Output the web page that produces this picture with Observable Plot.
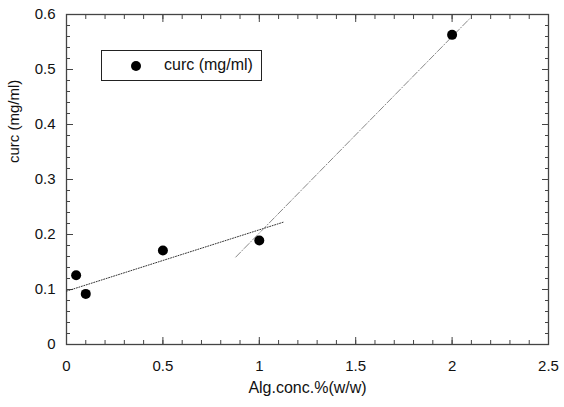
<!DOCTYPE html>
<html>
<head>
<meta charset="utf-8">
<script src="https://cdn.jsdelivr.net/npm/d3@7"></script>
<script src="https://cdn.jsdelivr.net/npm/@observablehq/plot@0.6"></script>
<style>
  body { margin: 0; background: #fff; }
  #wrap { position: relative; width: 564px; height: 407px; font-family: "Liberation Sans", Arial, sans-serif; }
  #legend { position: absolute; left: 101px; top: 50px; width: 159px; height: 29px; border: 1px solid #222; background: #fff; }
  #legend .dot { position: absolute; left: 29px; top: 10px; width: 10px; height: 10px; border-radius: 50%; background: #000; }
  #legend .lbl { position: absolute; left: 62px; top: 5px; font-size: 16px; color: #111; }
</style>
</head>
<body>
<div id="wrap">
  <div id="chart"></div>
  <div id="legend"><div class="dot"></div><div class="lbl">curc (mg/ml)</div></div>
</div>
<script>
const algConc = [0.05, 0.1, 0.5, 1, 2];
const curc = [0.126, 0.092, 0.171, 0.189, 0.563];

const fit1X = [0, 1.13];
const fit1Y = [0.097, 0.223];
const fit2X = [0.878, 2.09];
const fit2Y = [0.159, 0.592];

const xMajor = [0, 0.5, 1, 1.5, 2, 2.5];
const xLabels = ["0", "0.5", "1", "1.5", "2", "2.5"];
const yMajor = [0, 0.1, 0.2, 0.3, 0.4, 0.5, 0.6];
const yLabels = ["0", "0.1", "0.2", "0.3", "0.4", "0.5", "0.6"];
const xMinor = d3.range(0, 26).map(i => i / 10);
const yMinor = d3.range(0, 31).map(i => i / 50);

const xTitle = "Alg.conc.%(w/w)";
const yTitle = "curc (mg/ml)";

const points = algConc.map((x, i) => ({x, y: curc[i]}));
const line1 = fit1X.map((x, i) => ({x, y: fit1Y[i]}));
const line2 = fit2X.map((x, i) => ({x, y: fit2Y[i]}));

const ink = "#444";
const fmtX = d => xLabels[xMajor.indexOf(d)];
const fmtY = d => yLabels[yMajor.indexOf(d)];
const blank = () => "";

const chart = Plot.plot({
  width: 564,
  height: 407,
  marginLeft: 66,
  marginRight: 16,
  marginTop: 14,
  marginBottom: 63,
  style: {fontFamily: "'Liberation Sans', Arial, sans-serif", fontSize: "15px", background: "#fff", color: "#111"},
  x: {domain: [0, 2.5]},
  y: {domain: [0, 0.6]},
  marks: [
    Plot.axisX({ticks: xMinor, anchor: "bottom", tickSize: -4, tickFormat: blank, label: null, stroke: ink}),
    Plot.axisX({ticks: xMajor, anchor: "bottom", tickSize: -7, tickFormat: blank, label: null, stroke: ink}),
    Plot.axisX({ticks: xMinor, anchor: "top", tickSize: -4, tickFormat: blank, label: null, stroke: ink}),
    Plot.axisX({ticks: xMajor, anchor: "top", tickSize: -7, tickFormat: blank, label: null, stroke: ink}),
    Plot.axisX({ticks: xMajor, anchor: "bottom", tickSize: 0, tickPadding: 16, tickFormat: fmtX, label: null, fontSize: 15, fill: "#111"}),
    Plot.axisY({ticks: yMinor, anchor: "left", tickSize: -4, tickFormat: blank, label: null, stroke: ink}),
    Plot.axisY({ticks: yMajor, anchor: "left", tickSize: -7, tickFormat: blank, label: null, stroke: ink}),
    Plot.axisY({ticks: yMinor, anchor: "right", tickSize: -4, tickFormat: blank, label: null, stroke: ink}),
    Plot.axisY({ticks: yMajor, anchor: "right", tickSize: -7, tickFormat: blank, label: null, stroke: ink}),
    Plot.axisY({ticks: yMajor, anchor: "left", tickSize: 0, tickPadding: 11, tickFormat: fmtY, label: null, fontSize: 15, fill: "#111"}),
    Plot.frame({stroke: ink, strokeWidth: 1.3}),
    Plot.line(line1, {x: "x", y: "y", stroke: "#333", strokeWidth: 1, strokeDasharray: "1,1.6"}),
    Plot.line(line2, {x: "x", y: "y", stroke: "#888", strokeWidth: 1, strokeDasharray: "7,2,1,2"}),
    Plot.dot(points, {x: "x", y: "y", r: 5, fill: "#000", stroke: "none"}),
    Plot.text([xTitle], {text: d => d, frameAnchor: "bottom", dy: 48, fontSize: 16, fill: "#111"}),
    Plot.text([yTitle], {text: d => d, frameAnchor: "left", rotate: -90, dx: -52, dy: -16.5, fontSize: 15, fill: "#111"})
  ]
});
document.getElementById("chart").appendChild(chart);
</script>
</body>
</html>
